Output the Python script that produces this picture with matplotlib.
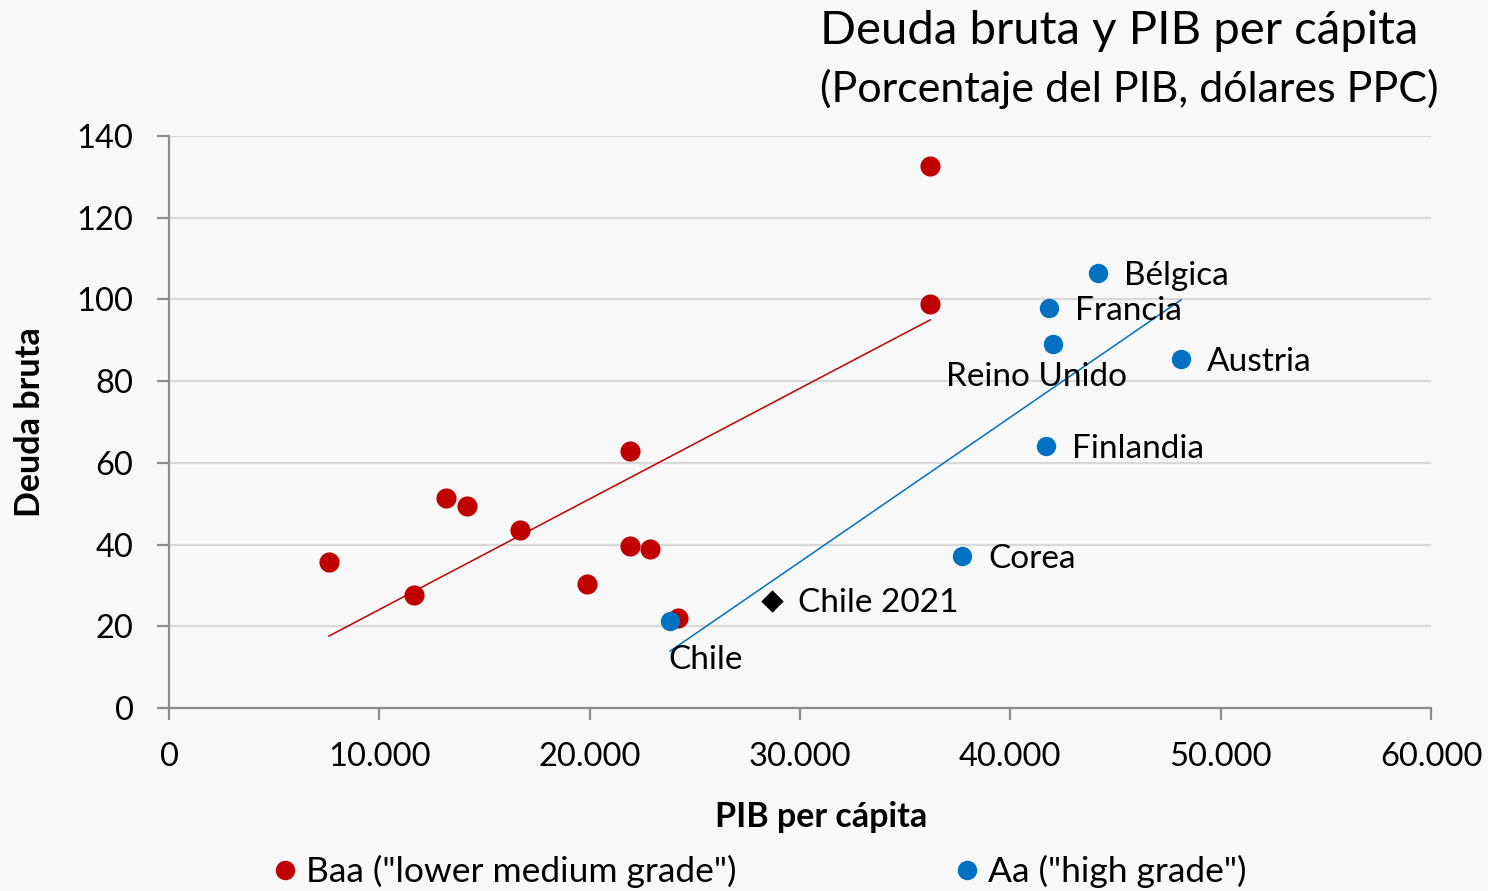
import numpy as np
import matplotlib.pyplot as plt
from matplotlib.lines import Line2D

plt.rcParams['font.family'] = ['Lato', 'DejaVu Sans']

# PIB per cápita (dólares PPC) y deuda bruta (% del PIB)
baa_pib = [7600, 11650, 13170, 14170, 16690, 19880, 21920, 21920, 22870, 24200, 36190, 36190]
baa_deuda = [35.7, 27.7, 51.4, 49.4, 43.6, 30.3, 62.9, 39.6, 38.9, 22.0, 98.9, 132.6]

aa_paises = ['Chile', 'Corea', 'Finlandia', 'Reino Unido', 'Francia', 'Bélgica', 'Austria']
aa_pib = [23820, 37700, 41700, 42040, 41840, 44180, 48120]
aa_deuda = [21.3, 37.2, 64.1, 89.1, 97.9, 106.5, 85.4]

chile21_pib = 28670
chile21_deuda = 26.2

# extremos de las lineas de tendencia
baa_tend_pib = [7600, 36190]
baa_tend_deuda = [17.6, 95.0]
aa_tend_pib = [23820, 48120]
aa_tend_deuda = [13.9, 99.9]

RED = '#c00000'
BLUE = '#0070c0'
BG = '#f8f8f8'

fig = plt.figure(figsize=(14.88, 8.91), dpi=100, facecolor=BG)
ax = fig.add_axes([0.1136, 0.2054, 0.8481, 0.642], facecolor=BG)

ax.plot(baa_tend_pib, baa_tend_deuda, color=RED, lw=1.1, zorder=2)
ax.plot(aa_tend_pib, aa_tend_deuda, color=BLUE, lw=1.1, zorder=2)

ax.scatter(baa_pib, baa_deuda, s=210, color=RED, zorder=3, linewidths=0)
ax.scatter(aa_pib, aa_deuda, s=195, color=BLUE, zorder=4, linewidths=0)
ax.scatter([chile21_pib], [chile21_deuda], s=130, marker='D', color='black', zorder=4, linewidths=0)

# etiquetas de los paises
offs = {'Chile': (-2, -39, 'left'), 'Reino Unido': (-17, -33, 'center')}
for name, x, y in zip(aa_paises, aa_pib, aa_deuda):
    dx, dy, ha = offs.get(name, (26, -3, 'left'))
    ax.annotate(name, (x, y), xytext=(dx, dy), textcoords='offset pixels',
                ha=ha, va='center', fontsize=24, zorder=5)
ax.annotate('Chile 2021', (chile21_pib, chile21_deuda), xytext=(26, -2),
            textcoords='offset pixels', ha='left', va='center', fontsize=24, zorder=5)

ax.set_xlim(0, 60000)
ax.set_ylim(0, 140)
ax.set_xticks(range(0, 60001, 10000))
ax.set_xticklabels(['0', '10.000', '20.000', '30.000', '40.000', '50.000', '60.000'])
ax.set_yticks(range(0, 141, 20))
ax.yaxis.grid(True, color='#d9d9d9', lw=1.6)
ax.set_axisbelow(True)

for s in ['top', 'right']:
    ax.spines[s].set_visible(False)
for s in ['left', 'bottom']:
    ax.spines[s].set_color('#8c8c8c')
    ax.spines[s].set_linewidth(1.6)
ax.tick_params(axis='both', colors='#8c8c8c', width=1.6, length=8.5, labelsize=23.5,
               labelcolor='black')
ax.tick_params(axis='x', pad=16)
ax.tick_params(axis='y', pad=17)

ax.set_xlabel('PIB per cápita', fontsize=24.5, fontweight='bold')
ax.xaxis.set_label_coords(0.517, -0.162)
ax.set_ylabel('Deuda bruta', fontsize=24.5, fontweight='bold', labelpad=22)

fig.text(0.551, 0.965, 'Deuda bruta y PIB per cápita', fontsize=34, ha='left', va='center')
fig.text(0.551, 0.900, '(Porcentaje del PIB, dólares PPC)', fontsize=31, ha='left', va='center')

handles = [Line2D([], [], marker='o', ls='none', color=RED, markersize=13),
           Line2D([], [], marker='o', ls='none', color=BLUE, markersize=13)]
fig.legend(handles, ['Baa ("lower medium grade")', 'Aa ("high grade")'],
           loc='center', bbox_to_anchor=(0.5085, 0.022), ncol=2, frameon=False,
           fontsize=25.5, handletextpad=0.1, columnspacing=6.0, handlelength=1.0)

fig.savefig('out.png', dpi=100, facecolor=BG)
